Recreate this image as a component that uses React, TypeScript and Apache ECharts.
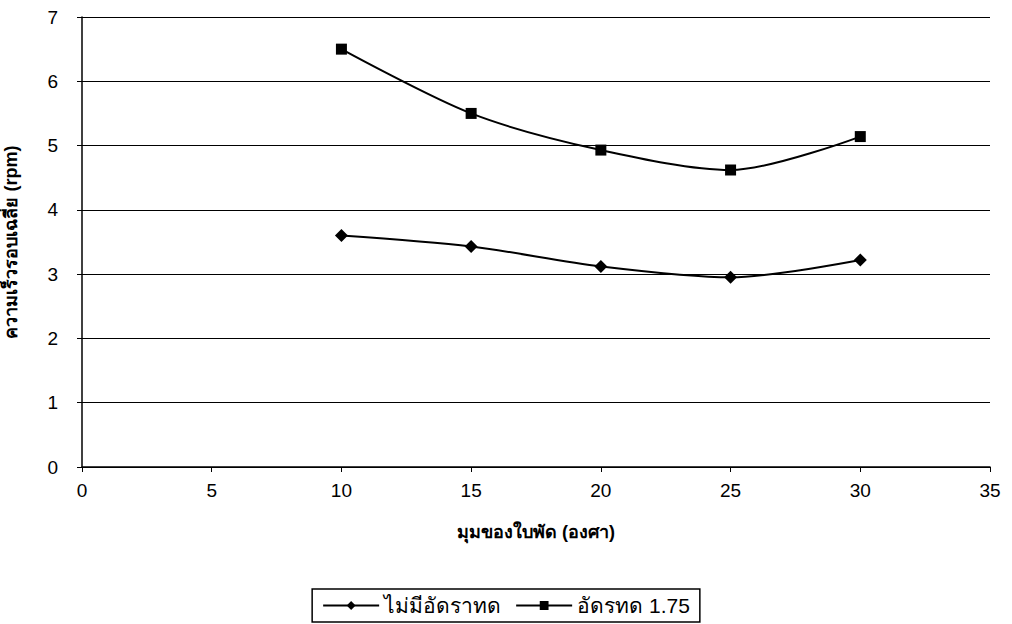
import React, { useEffect, useRef } from "react";
import * as echarts from "echarts";

const angles = [10, 15, 20, 25, 30];
const noRatio = [3.6, 3.43, 3.12, 2.95, 3.22];
const ratio175 = [6.5, 5.5, 4.93, 4.62, 5.14];
const seriesNames = ["ไม่มีอัดราทด", "อัดรทด 1.75"];
const xTitle = "มุมของใบพัด (องศา)";
const yTitle = "ความเร็วรอบเฉลี่ย (rpm)";

const font = "Arial, 'Liberation Sans', 'Noto Sans', sans-serif";

export default function App() {
  const ref = useRef<HTMLDivElement>(null);
  useEffect(() => {
    if (!ref.current) return;
    const chart = echarts.init(ref.current, null, { renderer: "svg" });
    chart.setOption({
      animation: false,
      backgroundColor: "#ffffff",
      grid: { left: 82, right: 22, top: 17, bottom: 157, outerBoundsMode: "none", containLabel: false },
      legend: {
        bottom: 2,
        left: "center",
        data: seriesNames,
        borderColor: "#000",
        borderWidth: 1.5,
        padding: [6, 10, 6, 10],
        itemWidth: 56,
        itemHeight: 11,
        itemGap: 14,
        textStyle: { fontFamily: font, fontSize: 21, color: "#000" },
      },
      xAxis: {
        type: "value",
        min: 0,
        max: 35,
        interval: 5,
        name: xTitle,
        nameLocation: "middle",
        nameGap: 56,
        nameTextStyle: { fontFamily: font, fontSize: 18, fontWeight: "bold", color: "#000" },
        axisLine: { show: true, lineStyle: { color: "#000", width: 1.5 } },
        axisTick: { show: true, length: 5, lineStyle: { color: "#000" } },
        axisLabel: { fontFamily: font, fontSize: 19, color: "#000", margin: 14 },
        splitLine: { show: false },
      },
      yAxis: {
        type: "value",
        min: 0,
        max: 7,
        interval: 1,
        name: yTitle,
        nameLocation: "middle",
        nameGap: 62,
        nameRotate: 90,
        nameTextStyle: { fontFamily: font, fontSize: 18, fontWeight: "bold", color: "#000" },
        axisLine: { show: true, lineStyle: { color: "#000", width: 1.5 } },
        axisTick: { show: true, length: 5, lineStyle: { color: "#000" } },
        axisLabel: { fontFamily: font, fontSize: 19, color: "#000", margin: 24 },
        splitLine: { show: true, lineStyle: { color: "#000", width: 1.2 } },
      },
      series: [
        {
          name: seriesNames[0],
          type: "line",
          smooth: 0.3,
          data: angles.map((a, i) => [a, noRatio[i]]),
          symbol: "diamond",
          symbolSize: 13,
          itemStyle: { color: "#000" },
          lineStyle: { color: "#000", width: 2 },
        },
        {
          name: seriesNames[1],
          type: "line",
          smooth: 0.3,
          data: angles.map((a, i) => [a, ratio175[i]]),
          symbol: "rect",
          symbolSize: 11,
          itemStyle: { color: "#000" },
          lineStyle: { color: "#000", width: 2 },
        },
      ],
    });
    return () => chart.dispose();
  }, []);
  return <div ref={ref} style={{ width: 1012, height: 624, position: "absolute", left: 0, top: 0 }} />;
}
